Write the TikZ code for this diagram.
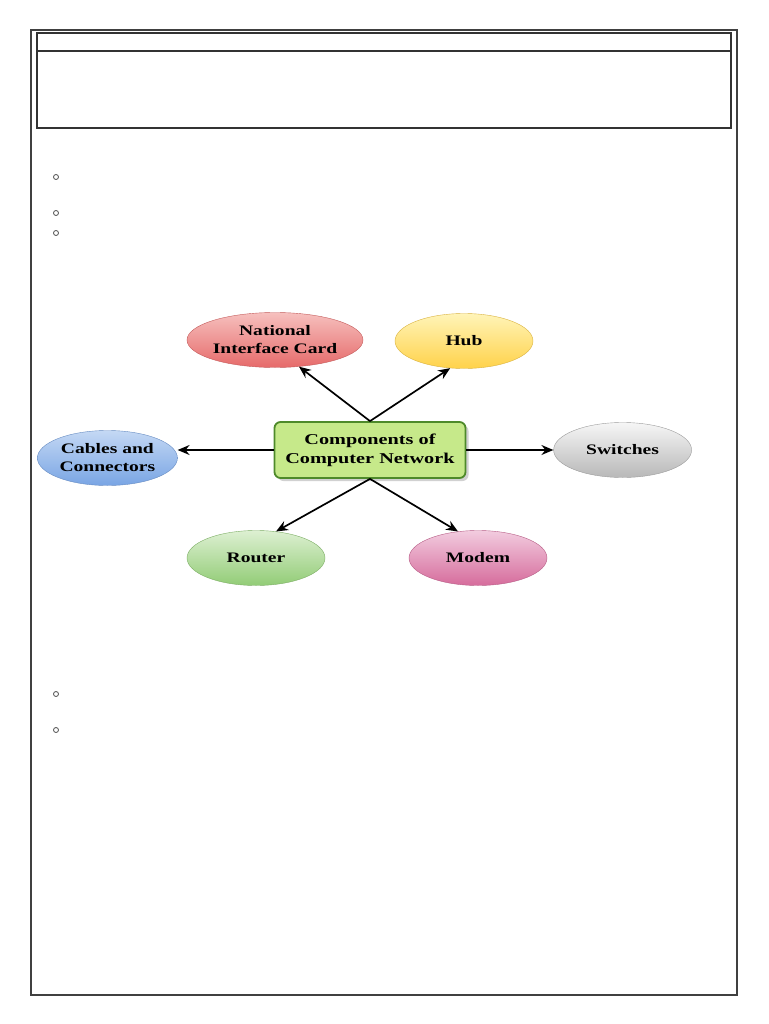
\documentclass[tikz,border=0pt]{standalone}
\usepackage{fontspec}
\newfontfamily\diagfont[FakeStretch=1.35]{Liberation Serif}
\usetikzlibrary{positioning, arrows.meta, shapes.geometric, shadows}
\definecolor{nicTop}{HTML}{F6C0BE}
\definecolor{nicBot}{HTML}{E66A6A}
\definecolor{hubTop}{HTML}{FFF4B8}
\definecolor{hubBot}{HTML}{FFD24A}
\definecolor{cabTop}{HTML}{C4D8F4}
\definecolor{cabBot}{HTML}{79A5E4}
\definecolor{swTop}{HTML}{F6F6F6}
\definecolor{swBot}{HTML}{B8B8B8}
\definecolor{rouTop}{HTML}{DDF0D2}
\definecolor{rouBot}{HTML}{92CC76}
\definecolor{modTop}{HTML}{F2CCDF}
\definecolor{modBot}{HTML}{D66C9C}
\definecolor{compFill}{HTML}{C6E98A}
\definecolor{compLine}{HTML}{4E8A2A}

\begin{document}
\begin{tikzpicture}[
  x=1pt, y=-1pt,
  part/.style 2 args={ellipse, top color=#1, bottom color=#2, draw=#2!85!black,
                      inner sep=0pt, minimum width=138pt, minimum height=55pt, align=center,
                      font=\diagfont\bfseries\fontsize{14.5}{18}\selectfont},
  hubnode/.style={draw=compLine, line width=1.8pt, fill=compFill, rounded corners=6pt,
                  minimum width=191pt, minimum height=56pt, align=center,
                  font=\diagfont\bfseries\fontsize{15}{19}\selectfont,
                  drop shadow={shadow xshift=3pt, shadow yshift=-3pt, opacity=0.3, fill=black!60}},
  arr/.style={-{Stealth[length=12pt, width=10pt, inset=4pt]}, line width=1.7pt},
  bullet/.style={draw=black!70, line width=0.8pt}
]
\useasboundingbox (0,0) rectangle (768,1024);

% page frame and header
\draw[line width=1.5pt, black!75] (31,30) rectangle (737,995);
\draw[line width=1.2pt, black!80] (37,33) rectangle (731,128);
\draw[line width=1.2pt, black!80] (37,51) -- (731,51);
\foreach \y in {177,213,233,694,730} \draw[bullet] (56,\y) circle (2.5);

% diagram
\node[hubnode] (comp) at (370,450) {Components of\\Computer Network};
\node[part={nicTop}{nicBot}, minimum width=176pt] (nic) at (275,340) {National\\Interface Card};
\node[part={hubTop}{hubBot}] (hub) at (464,341) {Hub};
\node[part={cabTop}{cabBot}, minimum width=140pt, left=96pt of comp, yshift=-8pt] (cab) {Cables and\\Connectors};
\node[part={swTop}{swBot}, right=87pt of comp] (sw) {Switches};
\node[part={rouTop}{rouBot}] (rou) at (256,558) {Router};
\node[part={modTop}{modBot}] (mod) at (478,558) {Modem};

\draw[arr] (comp.north) -- (nic.-48);
\draw[arr] (comp.north) -- (hub.-117);
\draw[arr] (comp.west) -- (comp.west -| cab.east);
\draw[arr] (comp.east) -- (comp.east -| sw.west);
\draw[arr] (comp.south) -- (rou.53);
\draw[arr] (comp.south) -- (mod.127);
\end{tikzpicture}
\end{document}
